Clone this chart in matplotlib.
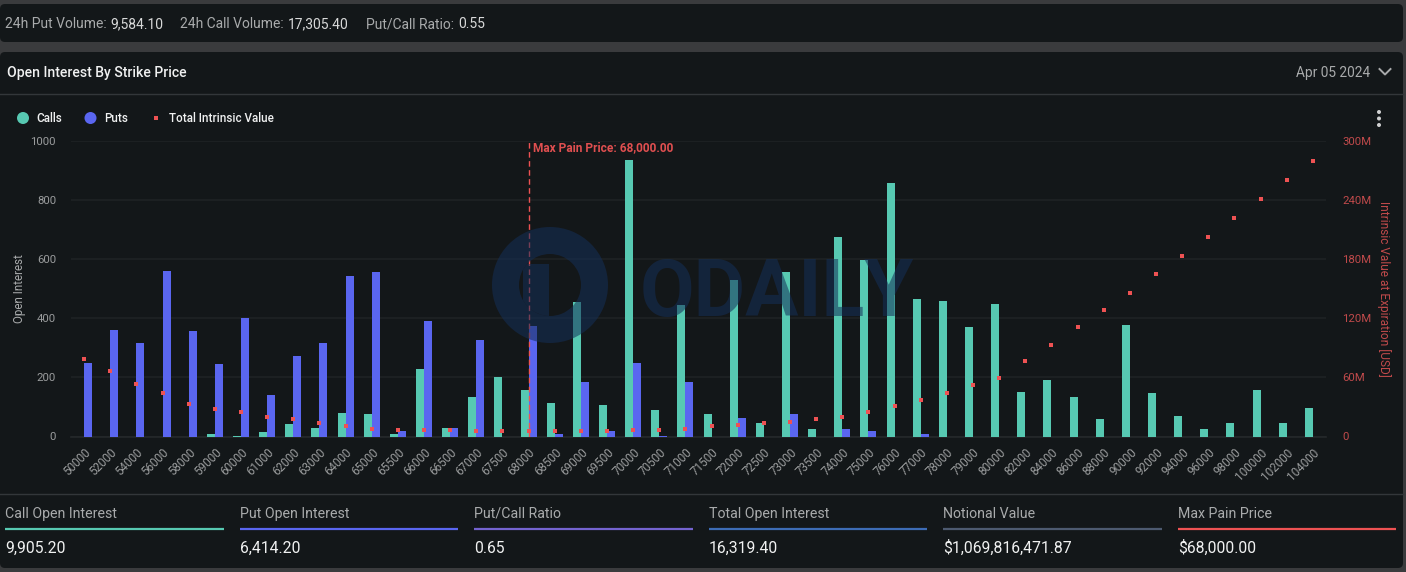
# Open interest by strike price dashboard (bars + intrinsic value scatter)

import matplotlib
matplotlib.use("Agg")
import matplotlib.pyplot as plt
from matplotlib.patches import Circle, FancyBboxPatch, Rectangle, Wedge

plt.rcParams["font.family"] = ["Roboto", "DejaVu Sans"]


# ------------------------------------------------------------
# Data
# ------------------------------------------------------------

strikes = [
    "50000", "52000", "54000", "56000", "58000", "59000", "60000", "61000",
    "62000", "63000", "64000", "65000", "65500", "66000", "66500", "67000",
    "67500", "68000", "68500", "69000", "69500", "70000", "70500", "71000",
    "71500", "72000", "72500", "73000", "73500", "74000", "75000", "76000",
    "77000", "78000", "79000", "80000", "82000", "84000", "86000", "88000",
    "90000", "92000", "94000", "96000", "98000", "100000", "102000", "104000",
]

calls = [
    0, 0, 0, 0, 0, 7, 3, 14,
    41, 30, 81, 75, 10, 230, 30, 132,
    200, 159, 112, 454, 105, 935, 91, 444,
    75, 528, 44, 555, 27, 674, 596, 857,
    467, 457, 369, 450, 152, 190, 135, 58,
    376, 146, 68, 27, 44, 156, 47, 98,
]

puts = [
    250, 359, 315, 559, 356, 247, 400, 142,
    274, 315, 542, 556, 17, 390, 30, 325,
    0, 373, 7, 186, 20, 250, 3, 186,
    0, 61, 0, 75, 0, 24, 17, 0,
    10, 0, 0, 0, 0, 0, 0, 0,
    0, 0, 0, 0, 0, 0, 0, 0,
]

# millions of USD
intrinsic = [
    78.2, 66.0, 53.8, 43.7, 33.5, 28.4, 24.4, 20.3,
    17.3, 13.2, 10.2, 8.1, 7.1, 6.1, 6.1, 5.1,
    5.1, 5.1, 5.1, 5.1, 5.1, 6.1, 7.1, 8.1,
    10.2, 11.2, 13.2, 15.2, 17.3, 19.3, 24.7, 30.5,
    36.6, 43.7, 51.8, 58.9, 76.2, 93.4, 110.7, 128.0,
    146.0, 164.6, 183.6, 202.3, 221.5, 240.8, 260.0, 279.6,
]

oi_ticks = [0, 200, 400, 600, 800, 1000]
usd_ticks = [0, 60, 120, 180, 240, 300]
usd_labels = ["0", "60M", "120M", "180M", "240M", "300M"]

top_stats = [
    ("24h Put Volume:", "9,584.10", 5),
    ("24h Call Volume:", "17,305.40", 180),
    ("Put/Call Ratio:", "0.55", 366),
]

footer_labels = [
    "Call Open Interest", "Put Open Interest", "Put/Call Ratio",
    "Total Open Interest", "Notional Value", "Max Pain Price",
]
footer_values = [
    "9,905.20", "6,414.20", "0.65",
    "16,319.40", "$1,069,816,471.87", "$68,000.00",
]
footer_x0 = [5, 240, 474, 709, 943, 1178]
footer_x1 = [224, 458, 693, 927, 1162, 1396]
footer_colors = ["#57c9b2", "#5a66f0", "#7463cf", "#3d6cb5", "#4d5a70", "#ee5253"]


# ------------------------------------------------------------
# Style
# ------------------------------------------------------------

W, H = 1406, 572

BG = "#3a3b3d"
CARD = "#131719"
LINE = "#33373a"
GRID = "#1e2224"
WHITE = "#f0f1f1"
SOFT = "#d8d9d9"
GREY = "#a9abac"
TICK = "#9a9c9d"
TEAL = "#57c9b2"
BLUE = "#5a66f0"
RED = "#ee5253"
DARK_RED = "#c04a4b"
MARK = "#142f58"

BAND = 26.15
BAR = 8.0


def axes_rect(x0, y0, x1, y1):
    # pixel box (y down) -> figure fraction
    return [x0 / W, 1 - y1 / H, (x1 - x0) / W, (y1 - y0) / H]


# ------------------------------------------------------------
# Background panels
# ------------------------------------------------------------

fig = plt.figure(figsize=(W / 100, H / 100), dpi=100, facecolor=BG)

bg = fig.add_axes([0, 0, 1, 1], zorder=0)
bg.set_xlim(0, W)
bg.set_ylim(H, 0)
bg.axis("off")

for y0, y1 in [(4, 42), (52, 568)]:
    bg.add_patch(FancyBboxPatch(
        (4, y0 + 4), 1395, y1 - y0 - 8,
        boxstyle="round,pad=4,rounding_size=5",
        facecolor=CARD, edgecolor="none",
    ))

bg.plot([0, 1403], [93.5, 93.5], color=LINE, lw=1)
bg.plot([0, 1403], [494, 494], color=LINE, lw=1)

for label, value, x in top_stats:
    t = bg.text(x, 28.5, label, color=GREY, fontsize=10, va="baseline")
    fig.canvas.draw()
    box = t.get_window_extent()
    bg.text(box.x1 + 4, 28.5, value, color=SOFT, fontsize=10, va="baseline")

bg.text(7, 76.5, "Open Interest By Strike Price", color=WHITE, fontsize=10.1,
        fontweight="medium", va="baseline")
bg.text(1296.5, 77, "Apr 05 2024", color=GREY, fontsize=9.9, va="baseline")
bg.plot([1379.5, 1385, 1390.5], [69, 74.5, 69], color=GREY, lw=1.4)

# legend
bg.add_patch(Circle((23, 118), 6, facecolor=TEAL, edgecolor="none"))
bg.text(36, 122, "Calls", color=WHITE, fontsize=8.4, fontweight="medium", va="baseline")
bg.add_patch(Circle((90.5, 118), 6, facecolor=BLUE, edgecolor="none"))
bg.text(104, 122, "Puts", color=WHITE, fontsize=8.4, fontweight="medium", va="baseline")
bg.add_patch(Rectangle((154, 116), 4.4, 4.4, facecolor=RED, edgecolor="none"))
bg.text(169, 122, "Total Intrinsic Value", color=WHITE, fontsize=8.4,
        fontweight="medium", va="baseline")

# menu dots
for y in [112, 118.5, 125]:
    bg.add_patch(Circle((1379, y), 2, facecolor="#d0d1d2", edgecolor="none"))

# footer stats
for i in range(len(footer_labels)):
    bg.text(footer_x0[i], 518, footer_labels[i], color=GREY, fontsize=10.2, va="baseline")
    bg.plot([footer_x0[i], footer_x1[i]], [529, 529], color=footer_colors[i], lw=1.6,
            solid_capstyle="butt")
    bg.text(footer_x0[i], 553, footer_values[i], color=WHITE, fontsize=11.3, va="baseline")


# ------------------------------------------------------------
# Chart
# ------------------------------------------------------------

ax = fig.add_axes(axes_rect(71, 141, 1326, 436.5), zorder=1)
ax.patch.set_alpha(0)

x = list(range(len(strikes)))
bar_w = BAR / BAND

ax.bar([i - bar_w / 2 for i in x], calls, width=bar_w, color=TEAL, zorder=3)
ax.bar([i + bar_w / 2 for i in x], puts, width=bar_w, color=BLUE, zorder=3)

ax.set_xlim(-0.5, len(strikes) - 0.5)
ax.set_ylim(0, 1000)
ax.set_yticks(oi_ticks)
ax.set_xticks(x)
ax.set_xticklabels(strikes, rotation=45, ha="right", rotation_mode="anchor")
ax.tick_params(axis="x", length=0, pad=7, labelsize=8.4, labelcolor=TICK)
ax.tick_params(axis="y", length=0, pad=10.8, labelsize=8.2, labelcolor=TICK)
ax.grid(True, axis="y", color=GRID, lw=1.2, zorder=0)
ax.set_axisbelow(True)

for side in ["top", "left", "right"]:
    ax.spines[side].set_visible(False)
ax.spines["bottom"].set_color("#25292b")
ax.spines["bottom"].set_linewidth(1.2)

ax.set_ylabel("Open Interest", color=GREY, fontsize=8.4)
ax.yaxis.set_label_coords((26 - 71) / (1326 - 71), 0.5)

# intrinsic value on the second axis
ax2 = ax.twinx()
ax2.set_zorder(2)
ax2.patch.set_alpha(0)
ax2.scatter(x, intrinsic, marker="s", s=11, color=RED, linewidths=0, zorder=5)
ax2.set_ylim(0, 300)
ax2.set_yticks(usd_ticks)
ax2.set_yticklabels(usd_labels)
ax2.tick_params(axis="y", length=0, pad=11.5, labelsize=8.2, labelcolor=DARK_RED)
for side in ["top", "left", "right", "bottom"]:
    ax2.spines[side].set_visible(False)
ax2.set_ylabel("Intrinsic Value at Expiration [USD]", color=DARK_RED, fontsize=8.6,
               rotation=270, va="center")
ax2.yaxis.set_label_coords((1384 - 71) / (1326 - 71), 0.5)

# max pain marker
pain = strikes.index("68000")
ax2.plot([pain, pain], [0, 300], color=RED, lw=1, dashes=(4, 2.5), zorder=4)
ax2.text(pain + 4.5 / BAND, 293.5, "Max Pain Price: 68,000.00", color="#e04f50",
         fontsize=8.6, fontweight="bold", va="center")


# ------------------------------------------------------------
# Watermark
# ------------------------------------------------------------

wm = fig.add_axes([0, 0, 1, 1], zorder=3)
wm.set_xlim(0, W)
wm.set_ylim(H, 0)
wm.axis("off")

wm.add_patch(Wedge((550, 285), 58, 0, 360, width=27, facecolor=MARK,
                   edgecolor="none", alpha=0.55))
inner = Rectangle((523, 264), 26, 60, facecolor=MARK, edgecolor="none", alpha=0.55)
wm.add_patch(inner)
inner.set_clip_path(Circle((550, 285), 31, transform=wm.transData))
wm.text(640, 316, "ODAILY", color=MARK, alpha=0.55, fontsize=57, fontweight="bold",
        va="baseline", ha="left")

fig.savefig("out.png", dpi=100, facecolor=BG)
